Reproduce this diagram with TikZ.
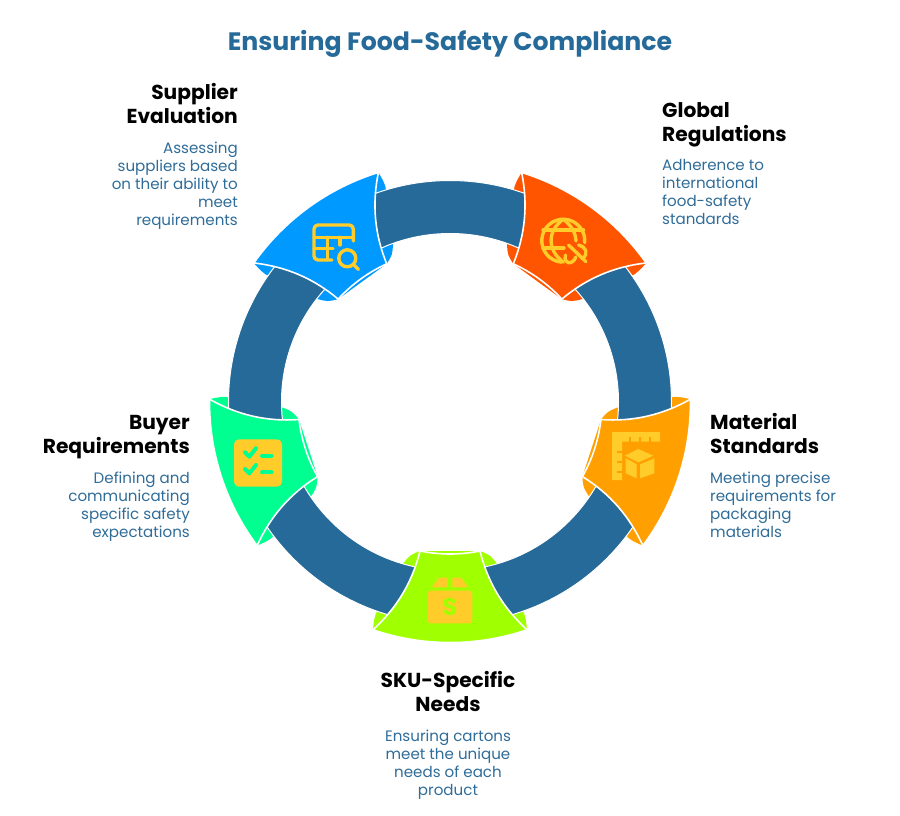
\documentclass[tikz,border=0pt]{standalone}
\usepackage{fontspec}
\setmainfont{Poppins}
\usetikzlibrary{positioning}

\definecolor{ringblue}{HTML}{256A99}
\definecolor{textblue}{HTML}{2F6C98}
\definecolor{iconyellow}{HTML}{FFCC29}
\definecolor{supplierblue}{HTML}{0099FF}
\definecolor{globalred}{HTML}{FF5500}
\definecolor{materialorange}{HTML}{FFA000}
\definecolor{skulime}{HTML}{A0FF00}
\definecolor{buyermint}{HTML}{00FF91}

\tikzset{
	headlbl/.style={inner sep=0pt,font=\bfseries\fontsize{20.2}{24}\selectfont,text=black},
	desclbl/.style={inner sep=0pt,font=\fontsize{15.1}{18}\selectfont,text=textblue},
	iconline/.style={iconyellow,line width=3.4pt,line cap=round,line join=round},
	checkline/.style={buyermint,line width=4pt,line cap=round,line join=round},
}

\begin{document}
\begin{tikzpicture}[x=1pt,y=-1pt]
	\useasboundingbox (0,0) rectangle (900,816);

	% coloured tips behind the ring
	\foreach \rot/\col in {-144/supplierblue,144/globalred,72/materialorange,0/skulime,-72/buyermint} {
		\begin{scope}[shift={(450,402)},rotate=\rot]
			\fill[\col] (-30,149) .. controls (-40,153) .. (-47.3,162) -- (-74.3,212) .. controls (-76,218) .. (-77,227.8)
				-- (77,227.8) .. controls (76,218) .. (74.3,212) -- (47.3,162) .. controls (40,153) .. (30,149) -- cycle;
		\end{scope}
	}

	% the ring
	\draw[white,line width=1pt,fill=ringblue,even odd rule] (450,402) circle[radius=221.5pt] circle[radius=168.5pt];

	% the five shields
	\foreach \rot/\col in {-144/supplierblue,144/globalred,72/materialorange,0/skulime,-72/buyermint} {
		\begin{scope}[shift={(450,402)},rotate=\rot]
			\draw[white,line width=1.6pt,line join=round,fill=\col] (-30,149) .. controls (-10,153) and (10,153) .. (30,149)
				.. controls (37.6,179.9) and (53.1,206) .. (77,227.8)
				.. controls (27,244.8) and (-27,244.8) .. (-77,227.8)
				.. controls (-53.1,206) and (-37.6,179.9) .. (-30,149) -- cycle;
		\end{scope}
	}

	% supplier icon
	\draw[iconline,rounded corners=4pt] (353.3,241) -- (353.3,225) -- (314,225) -- (314,260) -- (332,260);
	\draw[iconline] (314,237.3) -- (353.3,237.3);
	\draw[iconline] (314,248.3) -- (333,248.3);
	\draw[iconline] (327.3,237.3) -- (327.3,260);
	\draw[iconline] (340,237.3) -- (340,245);
	\draw[iconline] (347.3,258.3) circle[radius=8.5pt];
	\draw[iconline] (353.5,264.5) -- (358.3,269.3);

	% global icon
	\draw[iconline] (584.7,242.6) arc[start angle=-5,end angle=265,radius=21.5pt];
	\draw[iconline] (563.3,219.2) .. controls (547,231) and (547,250) .. (563.3,262.2);
	\draw[iconline] (563.3,219.2) .. controls (572,226) and (575.5,233) .. (576,241);
	\draw[iconline] (543,230) -- (583.5,230);
	\draw[iconline] (543,248) -- (564,248);
	\draw[iconline] (568.5,245) -- (586,261.7);
	\draw[iconline] (578.5,245) .. controls (585,246) and (590,254) .. (582,258.5);
	\draw[iconline] (565.5,255) .. controls (563,264) and (572,266) .. (576,257);

	% material icon
	\fill[iconyellow] (612,432) -- (660,432) -- (660,441.5) -- (622,441.5) -- (622,480) -- (612,480) -- cycle;
	\foreach \tick in {630,640,650} {
		\draw[materialorange,line width=2pt] (\tick,437) -- (\tick,442);
	}
	\foreach \tick in {452,462,472} {
		\draw[materialorange,line width=2pt] (617,\tick) -- (622,\tick);
	}
	\fill[iconyellow] (638.3,449) -- (653.3,455.7) -- (638.3,462.3) -- (625,455.7) -- cycle;
	\fill[iconyellow] (625.7,458.3) -- (636.7,464.3) -- (636.7,478.3) -- (625.7,473.3) -- cycle;
	\fill[iconyellow] (640,464.3) -- (654.3,458.3) -- (654.3,473.3) -- (640,478.3) -- cycle;

	% sku icon
	\fill[iconyellow,rounded corners=3pt] (427.7,590.7) rectangle (472.3,623.3);
	\fill[iconyellow] (439,577.7) -- (447.7,577.7) -- (447.7,587.3) -- (431.7,587.3) -- cycle;
	\fill[iconyellow] (461,577.7) -- (452.3,577.7) -- (452.3,587.3) -- (468.3,587.3) -- cycle;
	\node (skuicon) at (450,606.7) [inner sep=0pt,text=skulime,font=\bfseries\fontsize{24}{24}\selectfont] {S};

	% buyer icon
	\fill[iconyellow,rounded corners=5pt] (234,439.3) rectangle (282,486.7);
	\foreach \dy in {0,16.7} {
		\draw[checkline] (245,452.3+\dy) -- (249.3,456.7+\dy) -- (256,448.3+\dy);
		\draw[checkline] (262,455.7+\dy) -- (271.7,455.7+\dy);
	}

	% texts
	\node (titlelbl) at (450,44) [inner sep=0pt,text=ringblue,font=\bfseries\fontsize{25.2}{29}\selectfont] {Ensuring Food-Safety Compliance};

	\node (supplierhead) at (238,103) [headlbl,anchor=east,align=right] {Supplier\\Evaluation};
	\node (supplierdesc) at (238,186) [desclbl,anchor=east,align=right] {Assessing\\suppliers based\\on their ability to\\meet\\requirements};

	\node (globalhead) at (662,125) [headlbl,anchor=west,align=left] {Global\\Regulations};
	\node (globaldesc) at (662,192) [desclbl,anchor=west,align=left] {Adherence to\\international\\food-safety\\standards};

	\node (materialhead) at (710,433) [headlbl,anchor=west,align=left] {Material\\Standards};
	\node (materialdesc) at (710,505) [desclbl,anchor=west,align=left] {Meeting precise\\requirements for\\packaging\\materials};

	\node (skuhead) at (448,691) [headlbl,align=center] {SKU-Specific\\Needs};
	\node (skudesc) at (448,765) [desclbl,align=center] {Ensuring cartons\\meet the unique\\needs of each\\product};

	\node (buyerhead) at (190,437) [headlbl,anchor=east,align=right] {Buyer\\Requirements};
	\node (buyerdesc) at (190,507) [desclbl,anchor=east,align=right] {Defining and\\communicating\\specific safety\\expectations};
\end{tikzpicture}
\end{document}
